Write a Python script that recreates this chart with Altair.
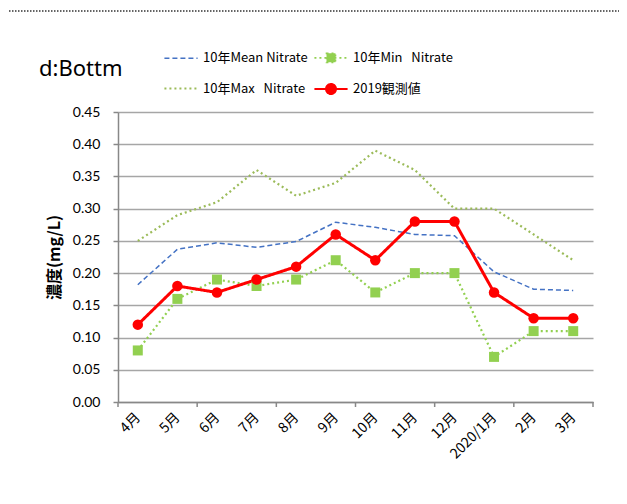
import json
import altair as alt
import pandas as pd

months = ["4月", "5月", "6月", "7月", "8月", "9月", "10月", "11月", "12月", "2020/1月", "2月", "3月"]
mean_vals = [0.182, 0.237, 0.247, 0.240, 0.249, 0.279, 0.271, 0.260, 0.258, 0.202, 0.175, 0.173]
min_vals = [0.08, 0.16, 0.19, 0.18, 0.19, 0.22, 0.17, 0.20, 0.20, 0.07, 0.11, 0.11]
max_vals = [0.25, 0.29, 0.31, 0.36, 0.32, 0.34, 0.39, 0.36, 0.30, 0.30, 0.26, 0.22]
obs_vals = [0.12, 0.18, 0.17, 0.19, 0.21, 0.26, 0.22, 0.28, 0.28, 0.17, 0.13, 0.13]

S_MEAN = "10年Mean Nitrate"
S_MIN = "10年Min\u00a0\u00a0 Nitrate"
S_MAX = "10年Max\u00a0\u00a0 Nitrate"
S_OBS = "2019観測値"
series_names = [S_MEAN, S_MIN, S_MAX, S_OBS]
series_colors = ["#4472C4", "#92D050", "#9BBB59", "#FF0000"]
series_dash = [[5, 3], [2, 3], [2, 3], [1, 0]]
series_width = [1.5, 2, 2, 3]
legend_shapes = [
    "M-1,0H1",
    "M-1,0H1M-0.27,-0.27H0.27V0.27H-0.27Z",
    "M-1,0H1",
    "M-1,0H1M-0.3,0A0.3,0.3,0,1,0,0.3,0A0.3,0.3,0,1,0,-0.3,0Z",
]
tick_positions = [-0.5, 1.5, 3.5, 5.5, 7.5, 9.5, 11.5]

rows = []
for name, vals in zip(series_names, [mean_vals, min_vals, max_vals, obs_vals]):
    for i, (m, v) in enumerate(zip(months, vals)):
        rows.append({"idx": i, "month": m, "series": name, "value": v})
df = pd.DataFrame(rows)

W, H = 475, 290
PAD_L, PAD_T, PAD_R, PAD_B = 110, 104, 26, 90
FONT_JP = "Noto Sans CJK JP"

label_expr = "%s[datum.value]" % json.dumps(months, ensure_ascii=False)

x_scale = alt.Scale(domain=[-0.5, 11.5], nice=False, zero=False)
y_scale = alt.Scale(domain=[0, 0.45], nice=False, zero=True)

x_enc = alt.X(
    "idx:Q",
    scale=x_scale,
    axis=alt.Axis(
        values=list(range(12)), labelExpr=label_expr, ticks=False, grid=False,
        labelAngle=-45, labelAlign="right", labelBaseline="middle",
        labelFont=FONT_JP, labelFontSize=14, labelColor="#000000",
        labelPadding=13, labelOverlap=False, labelFlush=False, labelBound=False,
        domainColor="#888888", domainWidth=1.5, title=None,
    ),
)
y_enc = alt.Y(
    "value:Q",
    scale=y_scale,
    axis=alt.Axis(
        values=[round(0.05 * i, 2) for i in range(10)], format=".2f",
        labelFont="Lato", labelFontSize=14, labelColor="#000000", labelPadding=13,
        tickColor="#888888", tickSize=5, tickWidth=1.5,
        domainColor="#888888", domainWidth=1.5,
        grid=True, gridColor="#A6A6A6", gridWidth=1.5,
        title="濃度(mg/L)", titleFont=FONT_JP, titleFontSize=16, titleFontWeight="bold",
        titleColor="#000000", titlePadding=10,
    ),
)

base = alt.Chart(df)


def line_layer(name, color, dash, width):
    return base.transform_filter(alt.datum.series == name).mark_line(
        color=color, strokeDash=dash, strokeWidth=width
    ).encode(x=x_enc, y=y_enc)


mean_line = line_layer(S_MEAN, "#4472C4", [5, 3], 1.5)
max_line = line_layer(S_MAX, "#9BBB59", [2, 3], 2.2)
min_line = line_layer(S_MIN, "#92D050", [2, 3], 2.2)
obs_line = line_layer(S_OBS, "#FF0000", [1, 0], 3)

min_pts = base.transform_filter(alt.datum.series == S_MIN).mark_point(
    shape="square", filled=True, color="#92D050", size=100, opacity=1
).encode(x=x_enc, y=y_enc)
obs_pts = base.transform_filter(alt.datum.series == S_OBS).mark_point(
    shape="circle", filled=True, color="#FF0000", size=110, opacity=1
).encode(x=x_enc, y=y_enc)

ticks_df = pd.DataFrame({"idx": tick_positions})
x_ticks = alt.Chart(ticks_df).mark_rule(color="#888888", strokeWidth=1.5).encode(
    x=x_enc, y=alt.value(H), y2=alt.value(H + 5),
)

legend_layer = base.transform_filter("false").mark_point(size=1100, opacity=1).encode(
    x=x_enc,
    y=y_enc,
    stroke=alt.Stroke("series:N", scale=alt.Scale(domain=series_names, range=series_colors),
                      legend=alt.Legend(title=None)),
    fill=alt.Fill("series:N", scale=alt.Scale(domain=series_names, range=series_colors),
                  legend=alt.Legend(title=None)),
    shape=alt.Shape("series:N", scale=alt.Scale(domain=series_names, range=legend_shapes),
                    legend=alt.Legend(title=None)),
    strokeDash=alt.StrokeDash("series:N", scale=alt.Scale(domain=series_names, range=series_dash),
                              legend=alt.Legend(title=None)),
    strokeWidth=alt.StrokeWidth("series:N", scale=alt.Scale(domain=series_names, range=series_width),
                                legend=alt.Legend(title=None)),
)

# decorative dotted top edge of the chart frame
frame_df = pd.DataFrame({"k": [0]})
border_top = alt.Chart(frame_df).mark_rule(color="#333333", strokeWidth=1.5, strokeDash=[1.5, 1.5]).encode(
    x=alt.value(-109), x2=alt.value(W + 40), y=alt.value(-101)
)

chart = alt.layer(
    mean_line, max_line, min_line, obs_line, min_pts, obs_pts, x_ticks, legend_layer,
    border_top,
).resolve_scale(
    stroke="independent", fill="independent", shape="independent",
    strokeDash="independent", strokeWidth="independent",
).properties(
    width=W, height=H,
    title=alt.TitleParams("d:Bottm", anchor="start", frame="group", font="Noto Sans",
                          fontSize=22, fontWeight="normal", color="#000000", dx=-79, dy=75),
    autosize=alt.AutoSizeParams(type="none"),
    padding={"left": PAD_L, "top": PAD_T, "right": PAD_R, "bottom": PAD_B},
).configure_view(stroke=None).configure_legend(
    orient="none", legendX=45, legendY=-72, columns=2, columnPadding=2, rowPadding=5,
    direction="horizontal",
    symbolSize=1100, labelFont=FONT_JP, labelFontSize=13, labelColor="#000000",
    labelLimit=0, labelOffset=4, symbolOffset=0,
)

chart.save("out.html", embed_options={"renderer": "svg", "actions": False})
